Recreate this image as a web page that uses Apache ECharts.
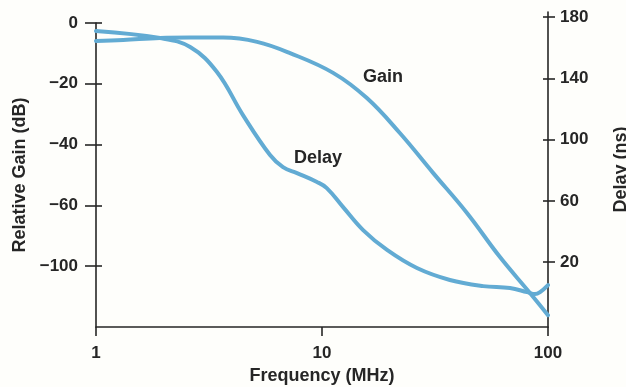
<!DOCTYPE html>
<html>
<head>
<meta charset="utf-8">
<title>Relative Gain and Delay vs Frequency</title>
<script src="https://cdn.jsdelivr.net/npm/echarts@6/dist/echarts.min.js"></script>
<style>
  html, body { margin: 0; padding: 0; background: #fefefb; }
  #chart { width: 626px; height: 387px; }
</style>
</head>
<body>
<div id="chart"></div>
<script>
// Gain curve: frequency (MHz) and relative gain (dB)
const gainFreq = [1, 1.32, 1.92, 2.61, 3.65, 5.16, 7.22, 11.2, 15.8, 22.1, 31.0, 43.8, 61.3, 83.2, 100];
const gainDb   = [-5.9, -5.6, -4.9, -4.8, -4.8, -6.2, -9.9, -16.4, -24.7, -36.2, -49.3, -62.5, -77.0, -88.8, -96.1];

// Delay curve: frequency (MHz) and group delay (ns)
const delayFreq = [1, 1.92, 2.61, 3.43, 4.47, 5.89, 6.72, 7.75, 9.5, 10.5, 12.4, 15.2, 19.4, 26.3, 36.8, 51.6, 67.9, 80.7, 87.6, 92.2, 100];
const delayNs   = [170.9, 166.3, 160.4, 144.1, 116.0, 89.9, 82.0, 78.1, 72.3, 68.3, 55.9, 40.9, 27.9, 16.1, 8.3, 4.3, 3.0, 0.4, -0.9, 0.4, 5.0];

// Axis ticks
const freqTicks = [1, 10, 100];
const gainTickPositions = [0, -20, -40, -60, -80];
const gainTickLabels = ['0', '\u221220', '\u221240', '\u221260', '\u2212100'];
const delayTicks = [20, 60, 100, 140, 180];

// Curve captions: [frequency, value, text]
const gainCaption = [18.6, -17.8, 'Gain'];
const delayCaption = [9.6, 87.9, 'Delay'];

const ink = '#262626';
const curveColor = '#62abd3';
const fontFamily = '"Liberation Sans", Arial, Helvetica, sans-serif';

const zip = (xs, ys) => xs.map((x, i) => [x, ys[i]]);

const baseLabel = { color: ink, fontWeight: 'bold', fontFamily: fontFamily, fontSize: 17 };
const nameStyle = { color: ink, fontWeight: 'bold', fontFamily: fontFamily, fontSize: 18 };
const axisStroke = { color: ink, width: 1.6 };

function caption(c) {
  return {
    symbol: 'circle',
    symbolSize: 0,
    silent: true,
    label: {
      show: true,
      position: 'inside',
      formatter: c[2],
      color: ink,
      fontWeight: 'bold',
      fontFamily: fontFamily,
      fontSize: 18
    },
    data: [{ coord: [c[0], c[1]] }]
  };
}

const chart = echarts.init(document.getElementById('chart'), null, { renderer: 'canvas' });

chart.setOption({
  backgroundColor: '#fefefb',
  animation: false,
  grid: [
    { left: 96, right: 78, top: 23, bottom: 60, containLabel: false, outerBoundsMode: 'none' },
    { left: 96, right: 78, top: 12, bottom: 60, containLabel: false, outerBoundsMode: 'none' }
  ],
  xAxis: [
    {
      gridIndex: 0,
      type: 'log',
      logBase: 10,
      min: 1,
      max: 100,
      position: 'bottom',
      name: 'Frequency (MHz)',
      nameLocation: 'middle',
      nameGap: 39,
      nameTextStyle: nameStyle,
      axisLine: { onZero: false, lineStyle: axisStroke },
      axisTick: { length: 9, lineStyle: axisStroke, customValues: freqTicks },
      axisLabel: Object.assign({ margin: 18, customValues: freqTicks, formatter: v => String(v) }, baseLabel),
      splitLine: { show: false },
      minorTick: { show: false }
    },
    {
      gridIndex: 1,
      type: 'log',
      logBase: 10,
      min: 1,
      max: 100,
      position: 'bottom',
      axisLine: { onZero: false },
      show: false
    }
  ],
  yAxis: [
    {
      gridIndex: 0,
      type: 'value',
      position: 'left',
      min: -100,
      max: 0,
      name: 'Relative Gain (dB)',
      nameLocation: 'middle',
      nameGap: 67,
      nameTextStyle: nameStyle,
      axisLine: { show: true, onZero: false, lineStyle: axisStroke },
      axisTick: { show: true, length: 11, lineStyle: axisStroke, customValues: gainTickPositions },
      axisLabel: Object.assign({
        margin: 18,
        customValues: gainTickPositions,
        formatter: v => gainTickLabels[gainTickPositions.indexOf(v)] || ''
      }, baseLabel),
      splitLine: { show: false }
    },
    {
      gridIndex: 1,
      type: 'value',
      position: 'right',
      min: -22.4,
      max: 183.3,
      name: 'Delay (ns)',
      nameLocation: 'middle',
      nameGap: 64,
      nameTextStyle: nameStyle,
      axisLine: { show: true, onZero: false, lineStyle: axisStroke },
      axisTick: { show: true, length: 7, lineStyle: axisStroke, customValues: delayTicks },
      axisLabel: Object.assign({ margin: 12, customValues: delayTicks }, baseLabel),
      splitLine: { show: false }
    },
    {
      // inner halves of the left ticks, so they cross the axis line
      gridIndex: 0,
      type: 'value',
      position: 'left',
      offset: 0,
      min: -100,
      max: 0,
      axisLine: { show: false, onZero: false },
      axisTick: { show: true, inside: true, length: 6, lineStyle: axisStroke, customValues: gainTickPositions },
      axisLabel: { show: false },
      splitLine: { show: false }
    },
    {
      // inner halves of the right ticks
      gridIndex: 1,
      type: 'value',
      position: 'right',
      offset: 0,
      min: -22.4,
      max: 183.3,
      axisLine: { show: false, onZero: false },
      axisTick: { show: true, inside: true, length: 5, lineStyle: axisStroke, customValues: delayTicks },
      axisLabel: { show: false },
      splitLine: { show: false }
    }
  ],
  series: [
    {
      name: 'Gain',
      type: 'line',
      xAxisIndex: 0,
      yAxisIndex: 0,
      data: zip(gainFreq, gainDb),
      smooth: 0.4,
      showSymbol: false,
      lineStyle: { color: curveColor, width: 4, cap: 'round', join: 'round' },
      markPoint: caption(gainCaption)
    },
    {
      name: 'Delay',
      type: 'line',
      xAxisIndex: 1,
      yAxisIndex: 1,
      data: zip(delayFreq, delayNs),
      smooth: 0.4,
      showSymbol: false,
      lineStyle: { color: curveColor, width: 4, cap: 'round', join: 'round' },
      markPoint: caption(delayCaption)
    }
  ]
});
</script>
</body>
</html>
